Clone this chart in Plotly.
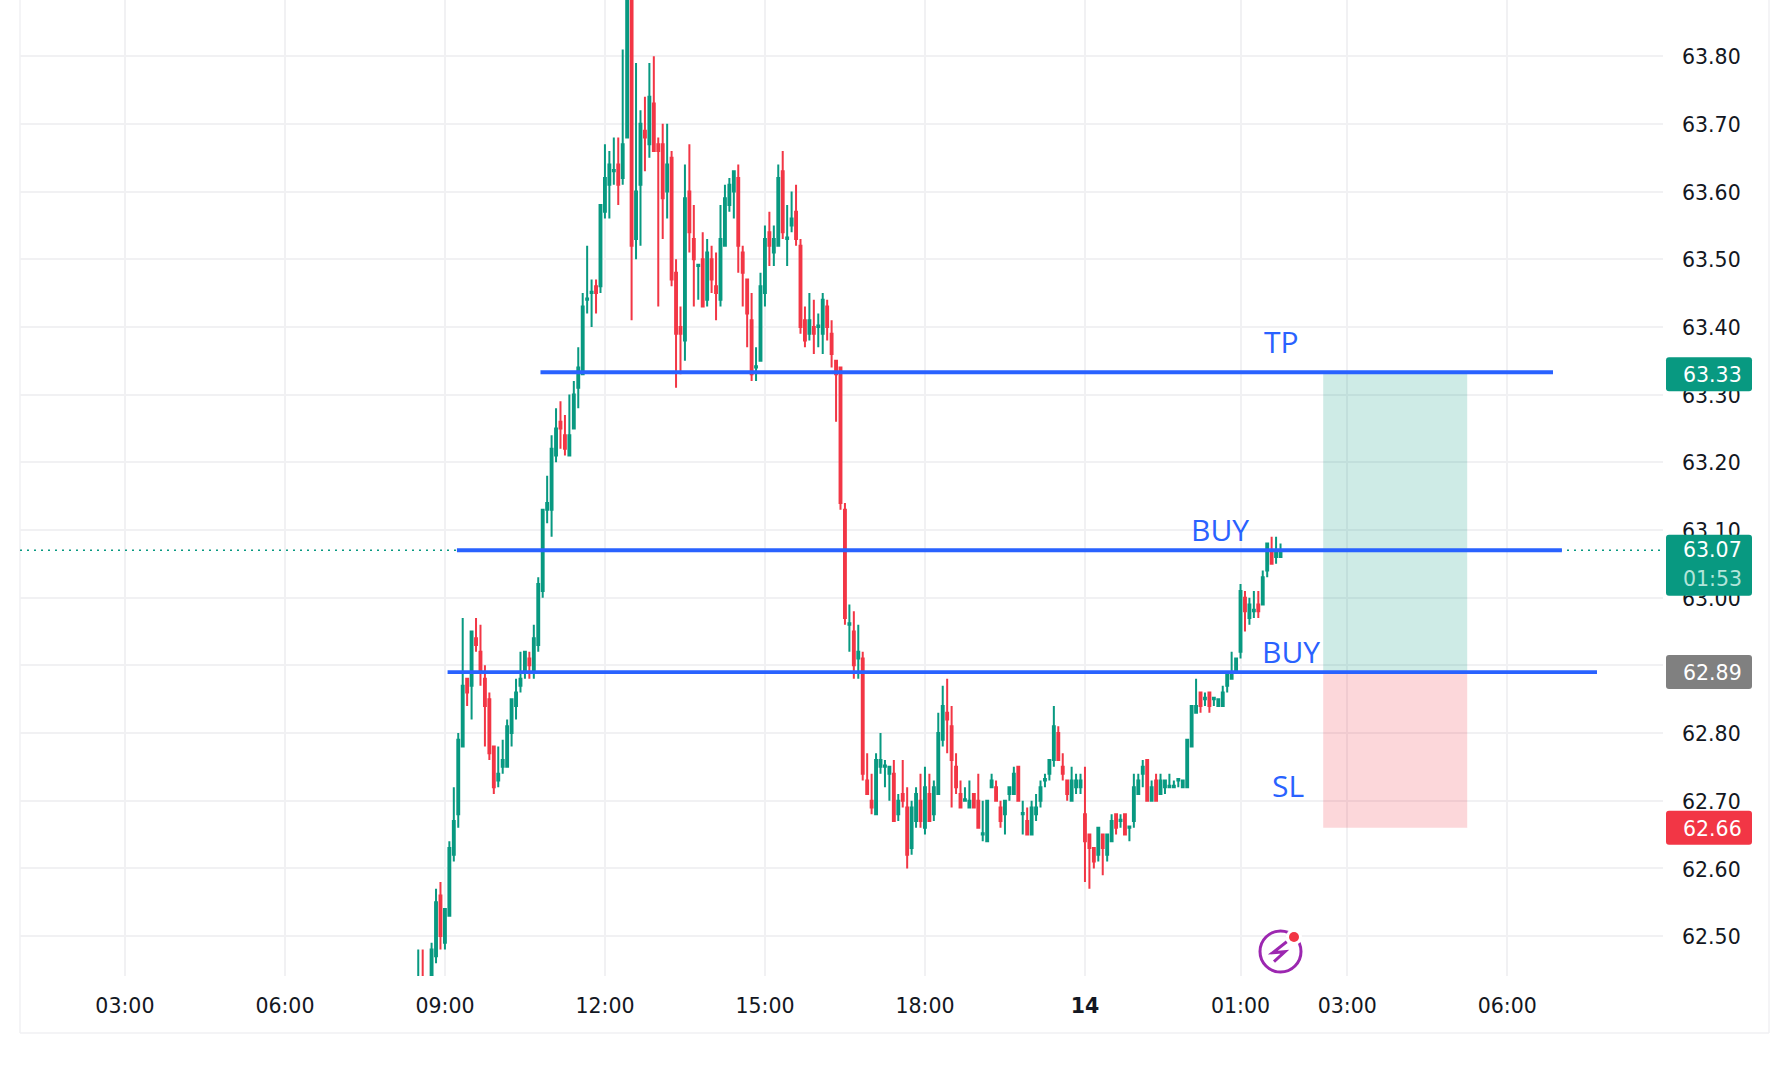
import plotly.graph_objects as go

# ---- Data -----------------------------------------------------------------
first_bar = -6  # bar numbers count 5-minute bars from the 09:00 bar
opens = [
    62.41,62.43,62.42,62.43,62.47,62.56,62.49,62.53,62.62,62.68,
    62.78,62.88,62.87,62.94,62.92,62.88,62.85,62.78,62.73,62.75,
    62.75,62.80,62.84,62.87,62.89,62.91,62.89,62.93,63.01,63.13,
    63.13,63.21,63.26,63.24,63.21,63.25,63.31,63.33,63.44,63.45,
    63.46,63.46,63.57,63.61,63.63,63.64,63.62,63.68,63.90,63.53,
    63.61,63.69,63.67,63.73,63.67,63.67,63.60,63.65,63.48,63.40,
    63.38,63.60,63.53,63.49,63.50,63.44,63.50,63.46,63.44,63.52,
    63.58,63.60,63.62,63.51,63.47,63.41,63.34,63.35,63.45,63.54,
    63.51,63.52,63.63,63.53,63.55,63.57,63.52,63.41,63.39,63.40,
    63.40,63.39,63.43,63.39,63.35,63.34,63.13,62.96,62.95,62.91,
    62.91,62.73,62.70,62.68,62.75,62.75,62.74,62.74,62.68,62.71,
    62.69,62.63,62.67,62.70,62.66,62.71,62.68,62.71,62.79,62.83,
    62.81,62.75,62.71,62.70,62.69,62.71,62.70,62.65,62.64,62.72,
    62.72,62.69,62.68,62.71,62.71,62.75,62.68,62.67,62.65,62.68,
    62.70,62.73,62.74,62.76,62.80,62.75,62.73,62.70,62.72,62.72,
    62.68,62.65,62.63,62.62,62.65,62.62,62.64,62.68,62.67,62.68,
    62.66,62.67,62.71,62.74,62.76,62.70,62.73,62.71,62.72,62.72,
    62.72,62.73,62.72,62.72,62.78,62.83,62.86,62.85,62.86,62.85,
    62.84,62.84,62.87,62.88,62.89,62.92,63.00,62.97,62.98,62.99,
    62.99,63.04,63.07,63.06,63.06,
]
highs = [
    62.48,62.48,62.43,62.49,62.57,62.58,62.54,62.64,62.72,62.80,
    62.97,62.88,62.95,62.97,62.96,62.90,62.86,62.78,62.78,62.79,
    62.82,62.85,62.88,62.92,62.92,62.92,62.96,63.03,63.13,63.18,
    63.24,63.28,63.29,63.27,63.30,63.32,63.37,63.45,63.52,63.47,
    63.47,63.58,63.67,63.66,63.68,63.68,63.81,63.95,63.93,63.79,
    63.72,63.74,63.79,63.80,63.68,63.70,63.70,63.66,63.50,63.43,
    63.64,63.67,63.58,63.49,63.54,63.53,63.52,63.51,63.58,63.61,
    63.62,63.63,63.64,63.52,63.47,63.45,63.37,63.48,63.55,63.57,
    63.55,63.64,63.66,63.58,63.60,63.61,63.53,63.43,63.45,63.44,
    63.42,63.45,63.44,63.41,63.35,63.34,63.14,62.99,62.98,62.96,
    62.92,62.77,62.74,62.77,62.80,62.76,62.75,62.76,62.71,62.76,
    62.72,62.70,62.72,62.74,62.75,62.74,62.73,62.83,62.87,62.88,
    62.84,62.77,62.73,62.72,62.73,62.71,62.74,62.70,62.70,62.74,
    62.73,62.70,62.70,62.72,62.75,62.75,62.70,62.69,62.70,62.71,
    62.73,62.74,62.76,62.84,62.81,62.77,62.73,62.75,62.74,62.74,
    62.75,62.65,62.63,62.66,62.65,62.65,62.68,62.68,62.68,62.68,
    62.66,62.74,62.74,62.76,62.76,62.73,62.74,62.74,62.73,62.74,
    62.73,62.73,62.73,62.79,62.84,62.88,62.86,62.86,62.86,62.85,
    62.85,62.87,62.89,62.92,62.91,63.02,63.01,63.00,63.01,63.01,
    63.04,63.08,63.09,63.09,63.08,
]
lows = [
    62.39,62.39,62.40,62.42,62.46,62.48,62.48,62.53,62.61,62.66,
    62.78,62.84,62.82,62.92,62.87,62.78,62.76,62.71,62.72,62.74,
    62.75,62.78,62.82,62.86,62.88,62.88,62.88,62.92,63.00,63.11,
    63.09,63.20,63.22,63.21,63.21,63.25,63.28,63.33,63.42,63.40,
    63.42,63.45,63.56,63.56,63.61,63.58,63.61,63.68,63.41,63.50,
    63.52,63.63,63.65,63.66,63.43,63.53,63.56,63.46,63.31,63.33,
    63.35,63.51,63.43,63.44,63.43,63.43,63.45,63.41,63.43,63.52,
    63.57,63.56,63.48,63.43,63.37,63.32,63.32,63.35,63.43,63.49,
    63.49,63.52,63.53,63.49,63.54,63.52,63.39,63.37,63.38,63.36,
    63.37,63.36,63.38,63.34,63.26,63.13,62.96,62.92,62.88,62.88,
    62.73,62.71,62.68,62.68,62.74,62.72,62.70,62.67,62.67,62.69,
    62.60,62.62,62.66,62.66,62.65,62.67,62.67,62.71,62.78,62.77,
    62.69,62.71,62.69,62.70,62.69,62.69,62.66,62.64,62.64,62.72,
    62.70,62.66,62.65,62.70,62.71,62.70,62.65,62.65,62.65,62.67,
    62.69,62.72,62.73,62.75,62.76,62.73,62.70,62.70,62.71,62.71,
    62.58,62.57,62.60,62.61,62.59,62.61,62.64,62.65,62.66,62.65,
    62.64,62.66,62.71,62.72,62.70,62.70,62.70,62.71,62.71,62.72,
    62.72,62.72,62.72,62.72,62.78,62.83,62.83,62.84,62.83,62.84,
    62.84,62.84,62.86,62.88,62.89,62.91,62.95,62.96,62.97,62.97,
    62.99,63.03,63.05,63.05,63.06,
]
closes = [
    62.43,62.41,62.43,62.48,62.55,62.50,62.54,62.63,62.67,62.79,
    62.87,62.86,62.95,62.93,62.89,62.84,62.77,62.72,62.74,62.76,
    62.81,62.85,62.86,62.88,62.92,62.90,62.94,63.02,63.13,63.14,
    63.22,63.25,63.25,63.22,63.24,63.30,63.34,63.43,63.442,63.452,
    63.45,63.58,63.62,63.64,63.632,63.61,63.67,63.91,63.52,63.60,
    63.70,63.68,63.74,63.66,63.66,63.59,63.64,63.47,63.39,63.39,
    63.59,63.54,63.50,63.492,63.43,63.51,63.47,63.45,63.53,63.59,
    63.61,63.63,63.52,63.48,63.42,63.33,63.342,63.46,63.53,63.52,
    63.53,63.62,63.54,63.532,63.56,63.53,63.40,63.38,63.41,63.39,
    63.402,63.44,63.40,63.36,63.33,63.14,62.97,62.962,62.90,62.92,
    62.74,62.71,62.69,62.76,62.76,62.752,62.75,62.67,62.70,62.70,
    62.62,62.69,62.71,62.67,62.72,62.67,62.72,62.80,62.84,62.82,
    62.76,62.72,62.69,62.702,62.70,62.69,62.66,62.652,62.70,62.73,
    62.70,62.67,62.70,62.72,62.74,62.70,62.682,62.65,62.69,62.69,
    62.72,62.732,62.76,62.81,62.76,62.74,62.71,62.73,62.73,62.73,
    62.64,62.63,62.61,62.66,62.63,62.65,62.67,62.66,62.672,62.65,
    62.662,62.72,62.73,62.75,62.70,62.72,62.70,62.73,62.73,62.722,
    62.722,62.732,62.73,62.79,62.84,62.84,62.84,62.852,62.84,62.852,
    62.85,62.86,62.89,62.89,62.91,63.01,62.98,62.99,62.982,62.98,
    63.03,63.08,63.05,63.07,63.07,
]
bars = list(range(first_bar, first_bar + len(opens)))
assert len(opens) == len(highs) == len(lows) == len(closes) == 195

time_ticks = [-72, -36, 0, 36, 72, 108, 144, 179, 203, 239]
time_labels = ["03:00", "06:00", "09:00", "12:00", "15:00", "18:00", "<b>14</b>", "01:00", "03:00", "06:00"]
price_ticks = [62.5, 62.6, 62.7, 62.8, 62.9, 63.0, 63.1, 63.2, 63.3, 63.4, 63.5, 63.6, 63.7, 63.8]

tp_price, entry_price, upper_price, sl_price = 63.333, 62.89, 63.07, 62.66
level_prices = [tp_price, upper_price, entry_price]
level_starts = [21.5, 2.7, 0.6]
level_ends = [249.3, 251.3, 259.2]
zone_start, zone_end = 197.6, 230.0
label_texts = ["TP", "BUY", "BUY", "SL"]
label_bars = [188.3, 174.3, 190.3, 189.6]
label_prices = [63.378, 63.101, 62.921, 62.723]

# ---- Layout ----------------------------------------------------------------
W, H = 1788, 1075
L, R, T, B = 20, 1663, 0, 976
FONT = "DejaVu Sans"
UP, DOWN, BLUE, GRID, INK = "#089981", "#f23645", "#2962ff", "#f1f1f3", "#131722"


def px(x):
    return (x - L) / (R - L)


def py(y):
    return (B - y) / (B - T)


def rounded_box(price, color, height, shift=0, width=86, r=3):
    hw, top, bot = width / 2, height / 2 + shift, -height / 2 + shift
    path = (f"M {-hw + r} {bot} L {hw - r} {bot} Q {hw} {bot} {hw} {bot + r} L {hw} {top - r} "
            f"Q {hw} {top} {hw - r} {top} L {-hw + r} {top} Q {-hw} {top} {-hw} {top - r} "
            f"L {-hw} {bot + r} Q {-hw} {bot} {-hw + r} {bot} Z")
    return dict(type="path", xref="paper", yref="y", xsizemode="pixel", ysizemode="pixel",
                xanchor=px(1709), yanchor=price, path=path, fillcolor=color, line=dict(width=0), layer="above")


fig = go.Figure()
fig.add_trace(go.Candlestick(
    x=bars, open=opens, high=highs, low=lows, close=closes,
    increasing=dict(line=dict(color=UP, width=2), fillcolor=UP),
    decreasing=dict(line=dict(color=DOWN, width=2), fillcolor=DOWN),
    whiskerwidth=0, showlegend=False, hoverinfo="skip",
))
fig.add_trace(go.Scatter(
    x=[-95.6, 274.05], y=[upper_price, upper_price], mode="lines",
    line=dict(color=UP, width=1.5, dash="2px,5px"), showlegend=False, hoverinfo="skip",
))
for price, start, end in zip(level_prices, level_starts, level_ends):
    fig.add_trace(go.Scatter(
        x=[start, end], y=[price, price], mode="lines",
        line=dict(color=BLUE, width=3.8), showlegend=False, hoverinfo="skip",
    ))

shapes = [
    dict(type="rect", xref="x", yref="y", x0=zone_start, x1=zone_end, y0=entry_price, y1=tp_price,
         fillcolor="rgba(8,153,129,0.2)", line=dict(width=0), layer="between"),
    dict(type="rect", xref="x", yref="y", x0=zone_start, x1=zone_end, y0=sl_price, y1=entry_price,
         fillcolor="rgba(242,54,69,0.2)", line=dict(width=0), layer="between"),
    # frame of the screenshot
    dict(type="line", xref="paper", yref="paper", x0=px(20), x1=px(20), y0=py(0), y1=py(1033),
         line=dict(color=GRID, width=1.5), layer="below"),
    dict(type="line", xref="paper", yref="paper", x0=px(1769), x1=px(1769), y0=py(0), y1=py(1033),
         line=dict(color=GRID, width=1.5), layer="below"),
    dict(type="line", xref="paper", yref="paper", x0=px(20), x1=px(1769), y0=py(1033), y1=py(1033),
         line=dict(color=GRID, width=1.5), layer="below"),
    # lightning badge
    dict(type="circle", xref="paper", yref="paper", x0=px(1260), x1=px(1301), y0=py(972), y1=py(931),
         line=dict(color="#9c27b0", width=3), fillcolor="rgba(0,0,0,0)"),
    dict(type="path", xref="paper", yref="paper",
         path=f"M {px(1286.7)} {py(941.7)} L {px(1272.7)} {py(952.7)} L {px(1285)} {py(951.7)} L {px(1274)} {py(961.7)}",
         line=dict(color="#9c27b0", width=3)),
    dict(type="circle", xref="paper", yref="paper", x0=px(1286), x1=px(1302), y0=py(945), y1=py(929),
         line=dict(width=0), fillcolor="white"),
    dict(type="circle", xref="paper", yref="paper", x0=px(1289), x1=px(1299), y0=py(942), y1=py(932),
         line=dict(width=0), fillcolor=DOWN),
    # price tags
    rounded_box(63.33, UP, 34),
    rounded_box(entry_price, "#808080", 34),
    rounded_box(sl_price, DOWN, 34),
    rounded_box(upper_price, UP, 61, shift=-15),
]

annotations = [
    dict(text=t, x=x, y=y, xref="x", yref="y", showarrow=False,
         font=dict(family="Open Sans", size=30, color=BLUE), xanchor="center", yanchor="middle")
    for t, x, y in zip(label_texts, label_bars, label_prices)
]
for text, price, color, shift in [
    ("63.33", 63.33, "white", -1),
    ("62.89", entry_price, "white", -1),
    ("62.66", sl_price, "white", -1),
    ("63.07", upper_price, "white", 0),
    ("01:53", upper_price, "#b2e5da", -29),
]:
    annotations.append(dict(
        text=text, xref="paper", yref="y", x=px(1712), y=price, showarrow=False,
        yshift=shift, borderpad=0,
        font=dict(family=FONT, size=20.5, color=color), xanchor="center", yanchor="middle",
    ))

fig.update_layout(
    width=W, height=H, margin=dict(l=L, r=W - R, t=T, b=H - B),
    paper_bgcolor="white", plot_bgcolor="white", showlegend=False,
    font=dict(family=FONT, size=20.5, color=INK),
    shapes=shapes, annotations=annotations, boxgap=0.4,
    xaxis=dict(
        range=[-95.6, 274.05], tickmode="array", tickvals=time_ticks, ticktext=time_labels,
        showgrid=True, gridcolor=GRID, gridwidth=1.5, zeroline=False, showline=False,
        ticks="", ticklabelstandoff=15, rangeslider=dict(visible=False),
    ),
    yaxis=dict(
        range=[62.441, 63.883], side="right", tickmode="array", tickvals=price_ticks,
        tickformat=".2f", showgrid=True, gridcolor=GRID, gridwidth=1.5,
        zeroline=False, showline=False, ticks="", ticklabelstandoff=18, ticklabelshift=1,
    ),
)

fig.write_html("out.html", config=dict(displayModeBar=False),
               post_script="document.body.style.margin='0';document.body.style.overflow='hidden';")
